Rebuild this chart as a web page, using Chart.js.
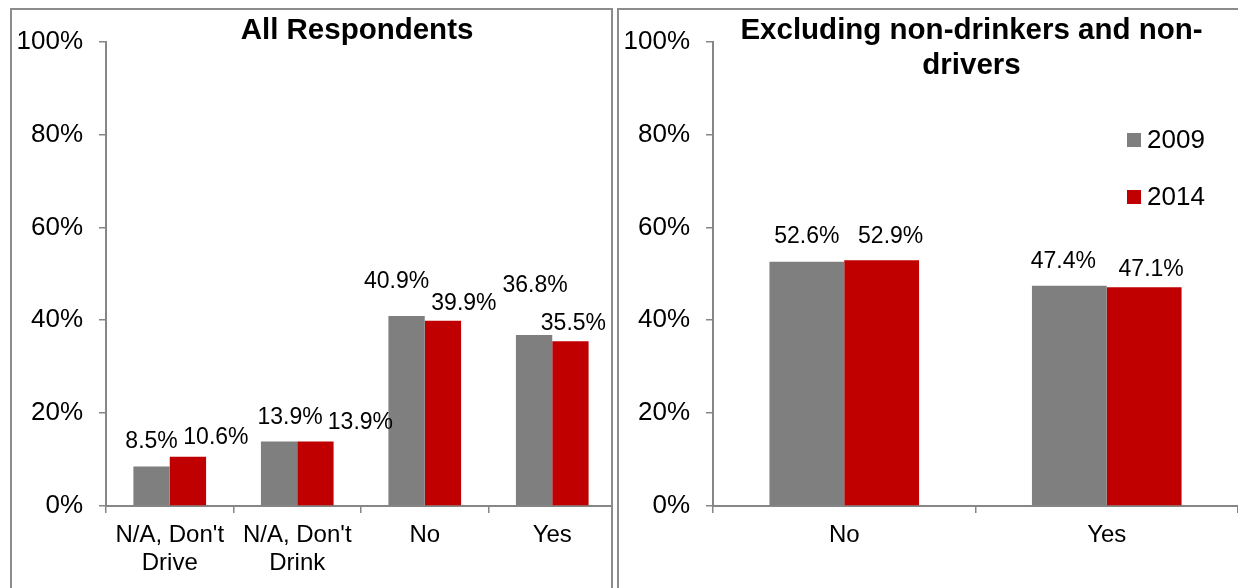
<!DOCTYPE html>
<html>
<head>
<meta charset="utf-8">
<script src="https://cdn.jsdelivr.net/npm/chart.js@4.4.1/dist/chart.umd.min.js"></script>
<style>
  html, body { margin: 0; padding: 0; background: #fff; }
  body { width: 1238px; height: 588px; position: relative; overflow: hidden; }
  .panel { position: absolute; top: 8px; height: 600px; border: 2px solid #8c8c8c; overflow: hidden; background: #fff; }
  #left { left: 10px; width: 599px; }
  #right { left: 617px; width: 640px; }
  canvas { display: block; }
</style>
</head>
<body>
<div class="panel" id="left"><canvas id="allChart" width="605" height="578"></canvas></div>
<div class="panel" id="right"><canvas id="exclChart" width="619" height="578"></canvas></div>
<script>
const years = ['2009', '2014'];

const allCategories = [["N/A, Don't", 'Drive'], ["N/A, Don't", 'Drink'], 'No', 'Yes'];
const all2009 = [8.5, 13.9, 40.9, 36.8];
const all2014 = [10.6, 13.9, 39.9, 35.5];

const exclCategories = ['No', 'Yes'];
const excl2009 = [52.6, 47.4];
const excl2014 = [52.9, 47.1];

const FONT = '"Liberation Sans", Arial, sans-serif';
const GRAY = '#7f7f7f';
const RED = '#c00000';
const AXIS = '#868686';

Chart.defaults.font.family = FONT;
Chart.defaults.color = '#000';

// where excel dragged the value labels to (dx from bar centre, dy from bar top)
const allNudge = [
  [[0, -25], [11, -24], [-10, -34], [1, -49]],
  [[28, -19], [45, -19], [21, -17], [3, -17]]
];
const exclNudge = [
  [[0, -25], [-6, -24]],
  [[9, -24], [7, -18]]
];

const barLabels = nudge => ({
  id: 'barLabels',
  afterDatasetsDraw(chart) {
    const ctx = chart.ctx;
    ctx.save();
    ctx.font = '23px ' + FONT;
    ctx.fillStyle = '#000';
    ctx.textAlign = 'center';
    ctx.textBaseline = 'middle';
    chart.data.datasets.forEach((ds, i) => {
      chart.getDatasetMeta(i).data.forEach((bar, j) => {
        const [dx, dy] = nudge[i][j];
        ctx.fillText(ds.data[j].toFixed(1) + '%', bar.x + dx, bar.y + dy);
      });
    });
    ctx.restore();
  }
});

const panelTitle = (lines, ys) => ({
  id: 'panelTitle',
  afterDraw(chart) {
    const ctx = chart.ctx;
    const { left, right } = chart.chartArea;
    ctx.save();
    ctx.font = 'bold 29.5px ' + FONT;
    ctx.fillStyle = '#000';
    ctx.textAlign = 'center';
    ctx.textBaseline = 'middle';
    lines.forEach((t, i) => ctx.fillText(t, (left + right) / 2 - 4, ys[i]));
    ctx.restore();
  }
});

const sideLegend = (x, ys) => ({
  id: 'sideLegend',
  afterDraw(chart) {
    const ctx = chart.ctx;
    ctx.save();
    ctx.font = '26px ' + FONT;
    ctx.textAlign = 'left';
    ctx.textBaseline = 'middle';
    chart.data.datasets.forEach((ds, i) => {
      ctx.fillStyle = ds.backgroundColor;
      ctx.fillRect(x, ys[i] - 7, 14, 14);
      ctx.fillStyle = '#000';
      ctx.fillText(ds.label, x + 20, ys[i] + 1);
    });
    ctx.restore();
  }
});

const makeOptions = rightPad => ({
  responsive: false,
  animation: false,
  layout: { padding: { top: 30, right: rightPad, left: 0, bottom: 0 } },
  plugins: { legend: { display: false }, title: { display: false }, tooltip: { enabled: false } },
  scales: {
    x: {
      grid: { display: true, drawOnChartArea: false, offset: true, tickLength: 7, color: AXIS, lineWidth: 1.5 },
      border: { color: AXIS, width: 2 },
      ticks: { font: { size: 24, lineHeight: 1.15 }, color: '#000', padding: 9, maxRotation: 0, autoSkip: false },
      afterFit: s => { s.height = 82; }
    },
    y: {
      min: 0,
      max: 100,
      grid: { display: true, drawOnChartArea: false, tickLength: 7, color: AXIS, lineWidth: 1.5 },
      border: { color: AXIS, width: 2 },
      ticks: { stepSize: 20, font: { size: 26 }, color: '#000', padding: 16, callback: v => v + '%' },
      afterFit: s => { s.width = 94; }
    }
  }
});

const dataset = (label, data, color) => ({
  label,
  data,
  backgroundColor: color,
  borderWidth: 0,
  categoryPercentage: 0.57,
  barPercentage: 1
});

new Chart(document.getElementById('allChart'), {
  type: 'bar',
  data: {
    labels: allCategories,
    datasets: [dataset(years[0], all2009, GRAY), dataset(years[1], all2014, RED)]
  },
  options: makeOptions(1),
  plugins: [barLabels(allNudge), panelTitle(['All Respondents'], [21])]
});

new Chart(document.getElementById('exclChart'), {
  type: 'bar',
  data: {
    labels: exclCategories,
    datasets: [dataset(years[0], excl2009, GRAY), dataset(years[1], excl2014, RED)]
  },
  options: makeOptions(0),
  plugins: [
    barLabels(exclNudge),
    panelTitle(['Excluding non-drinkers and non-', 'drivers'], [21, 56]),
    sideLegend(508, [130, 187])
  ]
});
</script>
</body>
</html>
